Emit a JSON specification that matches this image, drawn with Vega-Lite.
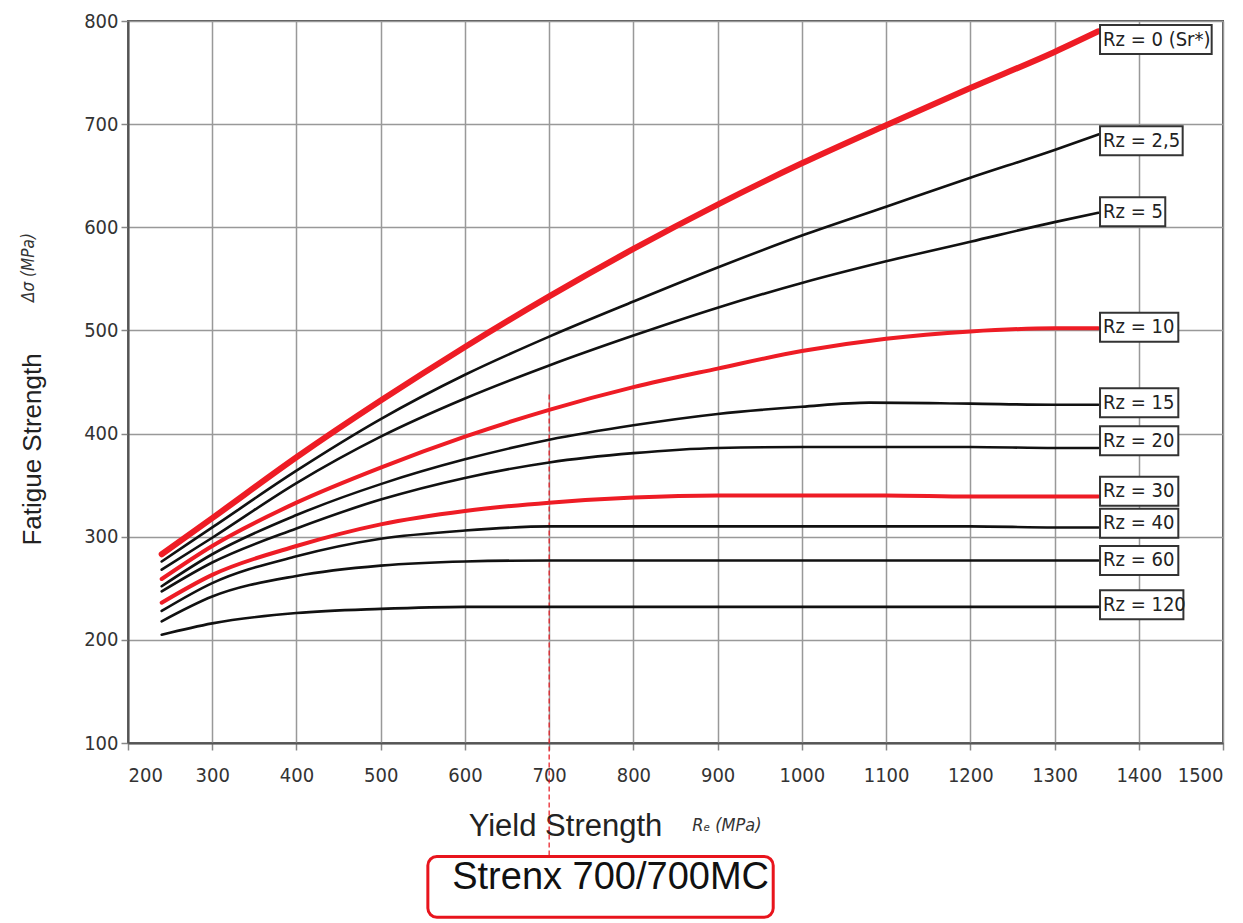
{
  "$schema": "https://vega.github.io/schema/vega-lite/v6.json",
  "width": 1095,
  "height": 722,
  "autosize": "none",
  "padding": {"left": 128, "top": 21, "right": 20, "bottom": 180},
  "background": "white",
  "config": {
    "view": {"stroke": "#555", "strokeWidth": 2},
    "axis": {
      "labelFont": "DejaVu Sans Condensed, Liberation Sans Narrow, Roboto Condensed, sans-serif",
      "labelFontSize": 20,
      "labelColor": "#333",
      "gridColor": "#999",
      "gridWidth": 1.5,
      "gridOpacity": 1,
      "domainColor": "#555",
      "domainWidth": 2,
      "tickColor": "#888",
      "tickWidth": 1.5,
      "tickSize": 7,
      "titleFont": "Liberation Sans, Arial, sans-serif",
      "titleFontWeight": "normal",
      "titleColor": "#222"
    }
  },
  "datasets": {
    "curves": [
      {"rz": "0", "x": 240, "y": 283}, {"rz": "0", "x": 300, "y": 318}, {"rz": "0", "x": 400, "y": 377}, {"rz": "0", "x": 500, "y": 432}, {"rz": "0", "x": 600, "y": 484}, {"rz": "0", "x": 700, "y": 533}, {"rz": "0", "x": 800, "y": 579}, {"rz": "0", "x": 900, "y": 622}, {"rz": "0", "x": 1000, "y": 662}, {"rz": "0", "x": 1100, "y": 699}, {"rz": "0", "x": 1200, "y": 735}, {"rz": "0", "x": 1300, "y": 770}, {"rz": "0", "x": 1352, "y": 790},
      {"rz": "2.5", "x": 240, "y": 276}, {"rz": "2.5", "x": 300, "y": 309}, {"rz": "2.5", "x": 400, "y": 364}, {"rz": "2.5", "x": 500, "y": 414}, {"rz": "2.5", "x": 600, "y": 457}, {"rz": "2.5", "x": 700, "y": 494}, {"rz": "2.5", "x": 800, "y": 528}, {"rz": "2.5", "x": 900, "y": 561}, {"rz": "2.5", "x": 1000, "y": 592}, {"rz": "2.5", "x": 1100, "y": 620}, {"rz": "2.5", "x": 1200, "y": 648}, {"rz": "2.5", "x": 1300, "y": 675}, {"rz": "2.5", "x": 1352, "y": 690},
      {"rz": "5", "x": 240, "y": 268}, {"rz": "5", "x": 300, "y": 299}, {"rz": "5", "x": 400, "y": 352}, {"rz": "5", "x": 500, "y": 397}, {"rz": "5", "x": 600, "y": 434}, {"rz": "5", "x": 700, "y": 466}, {"rz": "5", "x": 800, "y": 495}, {"rz": "5", "x": 900, "y": 522}, {"rz": "5", "x": 1000, "y": 546}, {"rz": "5", "x": 1100, "y": 567}, {"rz": "5", "x": 1200, "y": 586}, {"rz": "5", "x": 1300, "y": 605}, {"rz": "5", "x": 1352, "y": 614},
      {"rz": "10", "x": 240, "y": 259}, {"rz": "10", "x": 300, "y": 291}, {"rz": "10", "x": 400, "y": 333}, {"rz": "10", "x": 500, "y": 367}, {"rz": "10", "x": 600, "y": 397}, {"rz": "10", "x": 700, "y": 423}, {"rz": "10", "x": 800, "y": 445}, {"rz": "10", "x": 900, "y": 463}, {"rz": "10", "x": 1000, "y": 480}, {"rz": "10", "x": 1100, "y": 492}, {"rz": "10", "x": 1200, "y": 499}, {"rz": "10", "x": 1300, "y": 502}, {"rz": "10", "x": 1352, "y": 502},
      {"rz": "15", "x": 240, "y": 252}, {"rz": "15", "x": 300, "y": 283}, {"rz": "15", "x": 400, "y": 321}, {"rz": "15", "x": 500, "y": 351}, {"rz": "15", "x": 600, "y": 375}, {"rz": "15", "x": 700, "y": 394}, {"rz": "15", "x": 800, "y": 408}, {"rz": "15", "x": 900, "y": 419}, {"rz": "15", "x": 1000, "y": 426}, {"rz": "15", "x": 1080, "y": 430}, {"rz": "15", "x": 1200, "y": 429}, {"rz": "15", "x": 1300, "y": 428}, {"rz": "15", "x": 1352, "y": 428},
      {"rz": "20", "x": 240, "y": 247}, {"rz": "20", "x": 300, "y": 275}, {"rz": "20", "x": 400, "y": 308}, {"rz": "20", "x": 500, "y": 336}, {"rz": "20", "x": 600, "y": 357}, {"rz": "20", "x": 700, "y": 372}, {"rz": "20", "x": 800, "y": 381}, {"rz": "20", "x": 900, "y": 386}, {"rz": "20", "x": 1000, "y": 387}, {"rz": "20", "x": 1100, "y": 387}, {"rz": "20", "x": 1200, "y": 387}, {"rz": "20", "x": 1300, "y": 386}, {"rz": "20", "x": 1352, "y": 386},
      {"rz": "30", "x": 240, "y": 236}, {"rz": "30", "x": 300, "y": 263}, {"rz": "30", "x": 400, "y": 291}, {"rz": "30", "x": 500, "y": 312}, {"rz": "30", "x": 600, "y": 325}, {"rz": "30", "x": 700, "y": 333}, {"rz": "30", "x": 800, "y": 338}, {"rz": "30", "x": 900, "y": 340}, {"rz": "30", "x": 1000, "y": 340}, {"rz": "30", "x": 1100, "y": 340}, {"rz": "30", "x": 1200, "y": 339}, {"rz": "30", "x": 1300, "y": 339}, {"rz": "30", "x": 1352, "y": 339},
      {"rz": "40", "x": 240, "y": 228}, {"rz": "40", "x": 300, "y": 255}, {"rz": "40", "x": 400, "y": 281}, {"rz": "40", "x": 500, "y": 298}, {"rz": "40", "x": 600, "y": 306}, {"rz": "40", "x": 700, "y": 310}, {"rz": "40", "x": 800, "y": 310}, {"rz": "40", "x": 900, "y": 310}, {"rz": "40", "x": 1000, "y": 310}, {"rz": "40", "x": 1100, "y": 310}, {"rz": "40", "x": 1200, "y": 310}, {"rz": "40", "x": 1300, "y": 309}, {"rz": "40", "x": 1352, "y": 309},
      {"rz": "60", "x": 240, "y": 218}, {"rz": "60", "x": 300, "y": 242}, {"rz": "60", "x": 400, "y": 262}, {"rz": "60", "x": 500, "y": 272}, {"rz": "60", "x": 600, "y": 276}, {"rz": "60", "x": 700, "y": 277}, {"rz": "60", "x": 800, "y": 277}, {"rz": "60", "x": 900, "y": 277}, {"rz": "60", "x": 1000, "y": 277}, {"rz": "60", "x": 1100, "y": 277}, {"rz": "60", "x": 1200, "y": 277}, {"rz": "60", "x": 1300, "y": 277}, {"rz": "60", "x": 1352, "y": 277},
      {"rz": "120", "x": 240, "y": 205}, {"rz": "120", "x": 300, "y": 216}, {"rz": "120", "x": 400, "y": 226}, {"rz": "120", "x": 500, "y": 230}, {"rz": "120", "x": 600, "y": 232}, {"rz": "120", "x": 700, "y": 232}, {"rz": "120", "x": 800, "y": 232}, {"rz": "120", "x": 900, "y": 232}, {"rz": "120", "x": 1000, "y": 232}, {"rz": "120", "x": 1100, "y": 232}, {"rz": "120", "x": 1200, "y": 232}, {"rz": "120", "x": 1300, "y": 232}, {"rz": "120", "x": 1352, "y": 232}
    ],
    "labels": [
      {"label": "Rz = 0 (Sr*)", "x": 1354, "y": 782},
      {"label": "Rz = 2,5", "x": 1354, "y": 684},
      {"label": "Rz = 5", "x": 1354, "y": 615},
      {"label": "Rz = 10", "x": 1354, "y": 503},
      {"label": "Rz = 15", "x": 1354, "y": 430},
      {"label": "Rz = 20", "x": 1354, "y": 393},
      {"label": "Rz = 30", "x": 1354, "y": 344},
      {"label": "Rz = 40", "x": 1354, "y": 313},
      {"label": "Rz = 60", "x": 1354, "y": 277},
      {"label": "Rz = 120", "x": 1354, "y": 234}
    ]
  },
  "layer": [
    {
      "data": {"values": [{}]},
      "mark": {"type": "rule", "color": "#e8141c", "strokeWidth": 1.2, "strokeDash": [5, 3]},
      "encoding": {
        "x": {"datum": 700, "type": "quantitative", "scale": {"domain": [200, 1500], "nice": false}, "axis": {"values": [200,300,400,500,600,700,800,900,1000,1100,1200,1300,1400,1500], "title": "Yield Strength", "titleFontSize": 31, "titleX": 437, "titleY": 92, "titleAlign": "center", "titleBaseline": "alphabetic", "labelPadding": 15, "grid": true, "format": "d"}},
        "y": {"datum": 438, "type": "quantitative", "scale": {"domain": [100, 800], "nice": false}, "axis": {"values": [100,200,300,400,500,600,700,800], "title": "Fatigue Strength", "titleFontSize": 26, "titleX": -96, "titleY": 428, "titleAlign": "center", "titleBaseline": "middle", "labelPadding": 3, "grid": true}},
        "y2": {"datum": -10}
      }
    },
    {
      "data": {"name": "curves"},
      "transform": [{"filter": {"field": "rz", "oneOf": ["2.5","5","15","20","40","60","120"]}}],
      "mark": {"type": "line", "interpolate": "monotone", "strokeCap": "round", "color": "#111", "strokeWidth": 2.6},
      "encoding": {
        "x": {"field": "x", "type": "quantitative"},
        "y": {"field": "y", "type": "quantitative"},
        "detail": {"field": "rz", "type": "nominal"},
        "order": {"field": "x", "type": "quantitative"}
      }
    },
    {
      "data": {"name": "curves"},
      "transform": [{"filter": {"field": "rz", "oneOf": ["10","30"]}}],
      "mark": {"type": "line", "interpolate": "monotone", "strokeCap": "round", "color": "#ee1c25", "strokeWidth": 4},
      "encoding": {
        "x": {"field": "x", "type": "quantitative"},
        "y": {"field": "y", "type": "quantitative"},
        "detail": {"field": "rz", "type": "nominal"},
        "order": {"field": "x", "type": "quantitative"}
      }
    },
    {
      "data": {"name": "curves"},
      "transform": [{"filter": {"field": "rz", "equal": "0"}}],
      "mark": {"type": "line", "interpolate": "monotone", "strokeCap": "round", "color": "#ee1c25", "strokeWidth": 6},
      "encoding": {
        "x": {"field": "x", "type": "quantitative"},
        "y": {"field": "y", "type": "quantitative"},
        "order": {"field": "x", "type": "quantitative"}
      }
    },
    {
      "data": {"name": "labels"},
      "mark": {"type": "point", "filled": true, "fill": "white", "stroke": "#333", "strokeWidth": 2, "opacity": 1, "size": 841},
      "encoding": {
        "x": {"field": "x", "type": "quantitative"},
        "y": {"field": "y", "type": "quantitative"},
        "shape": {"field": "label", "type": "nominal", "legend": null, "scale": {
          "domain": ["Rz = 0 (Sr*)","Rz = 2,5","Rz = 5","Rz = 10","Rz = 15","Rz = 20","Rz = 30","Rz = 40","Rz = 60","Rz = 120"],
          "range": ["M0,-1L7.7,-1L7.7,1L0,1Z","M0,-1L5.7,-1L5.7,1L0,1Z","M0,-1L4.5,-1L4.5,1L0,1Z","M0,-1L5.4,-1L5.4,1L0,1Z","M0,-1L5.4,-1L5.4,1L0,1Z","M0,-1L5.4,-1L5.4,1L0,1Z","M0,-1L5.4,-1L5.4,1L0,1Z","M0,-1L5.4,-1L5.4,1L0,1Z","M0,-1L5.4,-1L5.4,1L0,1Z","M0,-1L5.75,-1L5.75,1L0,1Z"]}}
      }
    },
    {
      "data": {"name": "labels"},
      "mark": {"type": "text", "align": "left", "baseline": "middle", "dx": 3, "fontSize": 20, "font": "DejaVu Sans Condensed, Liberation Sans Narrow, Roboto Condensed, sans-serif", "color": "#222"},
      "encoding": {
        "x": {"field": "x", "type": "quantitative"},
        "y": {"field": "y", "type": "quantitative"},
        "text": {"field": "label"}
      }
    },
    {
      "data": {"values": [{"t": "Rₑ (MPa)"}]},
      "mark": {"type": "text", "align": "center", "baseline": "middle", "fontSize": 18, "fontStyle": "italic", "font": "DejaVu Sans Condensed, Liberation Sans Narrow, sans-serif", "color": "#333"},
      "encoding": {"x": {"datum": 911}, "y": {"datum": 20}, "text": {"field": "t"}}
    },
    {
      "data": {"values": [{"t": "Δσ (MPa)"}]},
      "mark": {"type": "text", "align": "center", "baseline": "middle", "angle": 270, "fontSize": 17, "fontStyle": "italic", "font": "DejaVu Sans Condensed, Liberation Sans Narrow, sans-serif", "color": "#333"},
      "encoding": {"x": {"datum": 82}, "y": {"datum": 561}, "text": {"field": "t"}}
    },
    {
      "data": {"values": [{}]},
      "mark": {"type": "rect", "fill": null, "fillOpacity": 0, "stroke": "#e8141c", "strokeWidth": 3, "cornerRadius": 9},
      "encoding": {"x": {"datum": 556}, "x2": {"datum": 966}, "y": {"datum": -10}, "y2": {"datum": -69}}
    },
    {
      "data": {"values": [{"t": "Strenx 700/700MC"}]},
      "mark": {"type": "text", "align": "center", "baseline": "alphabetic", "fontSize": 38, "font": "Liberation Sans, Arial, sans-serif", "color": "#111"},
      "encoding": {"x": {"datum": 773}, "y": {"datum": -42}, "text": {"field": "t"}}
    }
  ]
}
